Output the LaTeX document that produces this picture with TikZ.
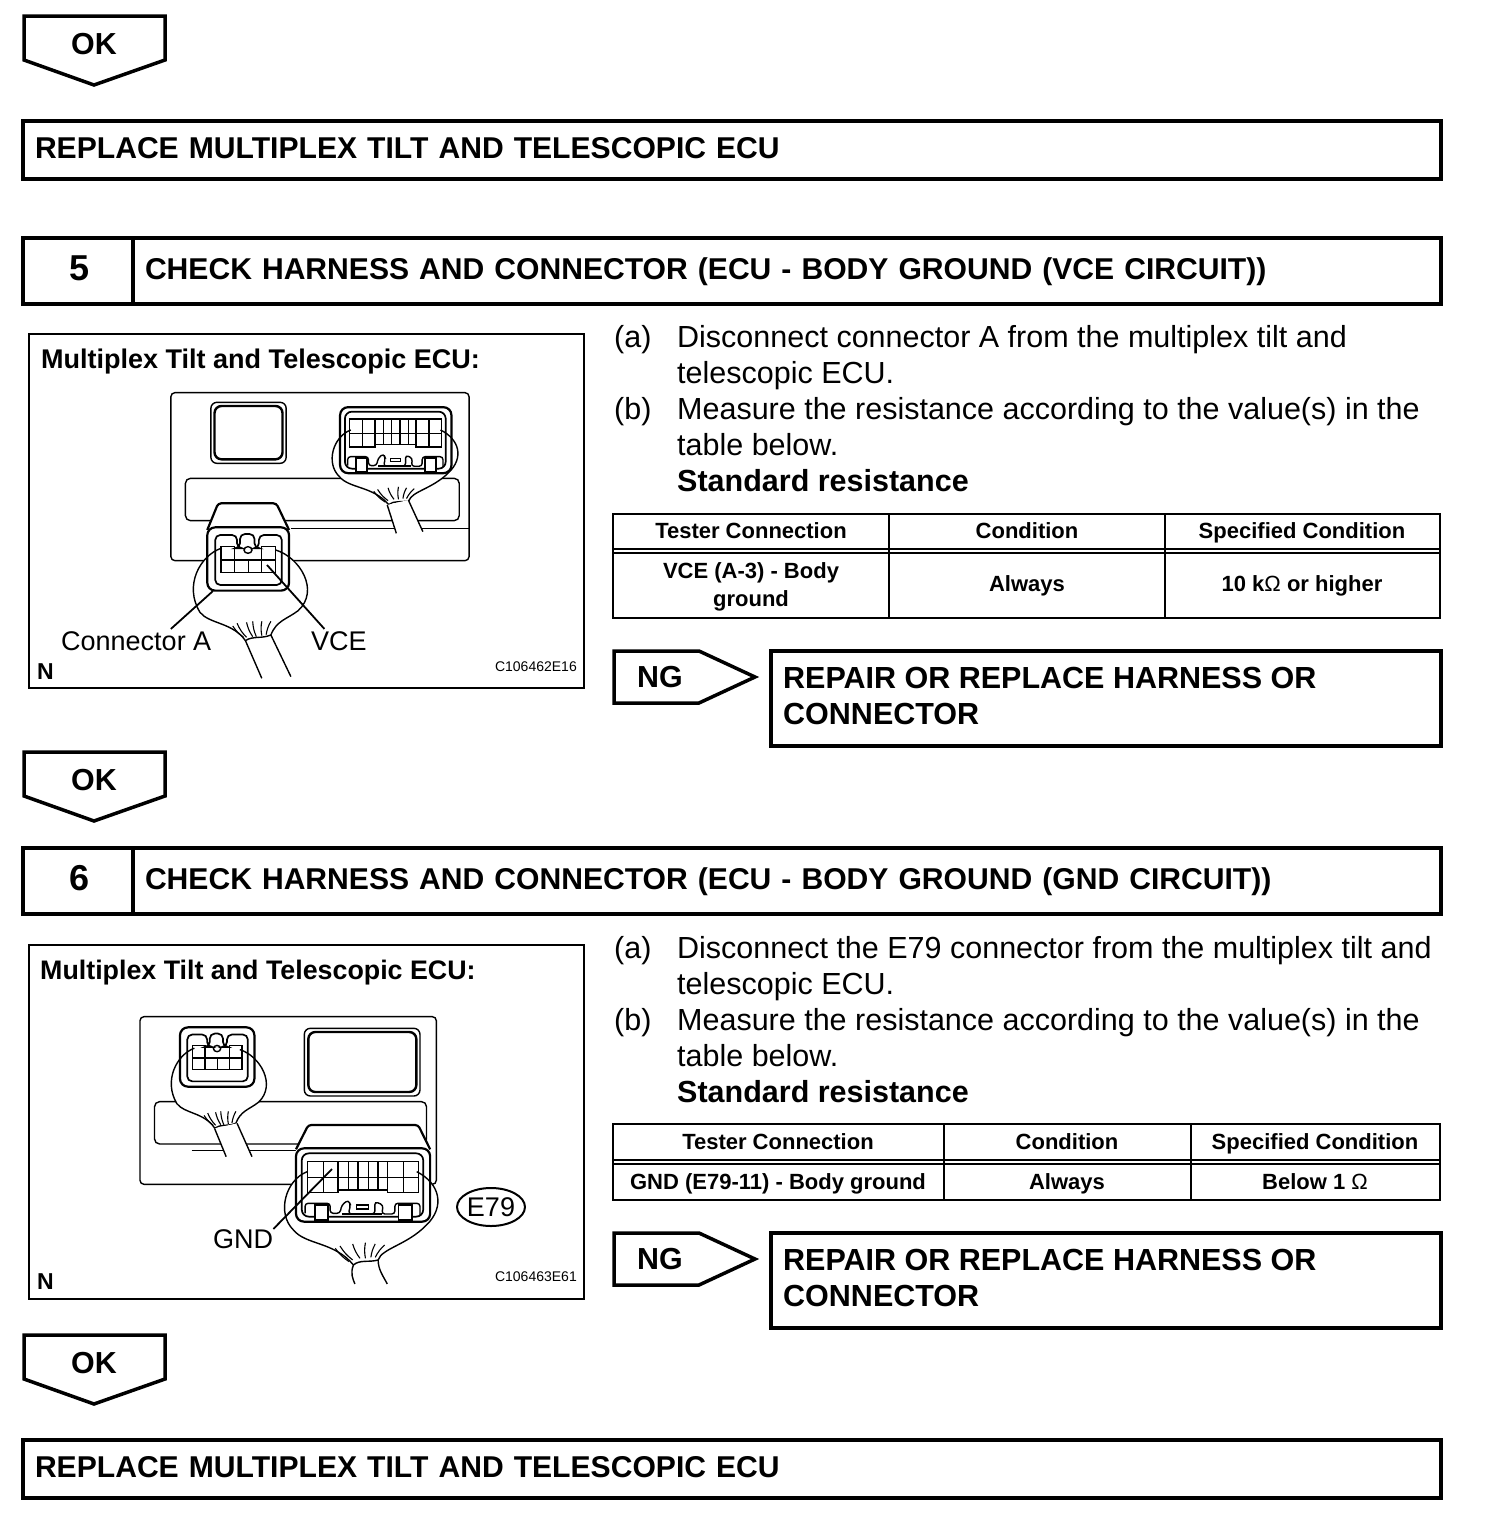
\documentclass[tikz,border=0pt]{standalone}
\usepackage{fontspec}
\setmainfont{Liberation Sans}
\usetikzlibrary{calc,shapes.geometric}
\newcommand{\fsize}[1]{\fontsize{#1}{36}\selectfont}

\tikzset{
  % small four pin plug, origin at top left of its rim
  pics/smallconn/.style={code={
    \draw[line width=2.2pt, rounded corners=8pt] (0,0) rectangle (225,190);
    \draw[line width=1.7pt, rounded corners=5pt] (22,173) -- (22,23) -- (82,23) -- (82,63) -- (90,63) -- (90,20) -- (130,20) -- (130,63) -- (142,63) -- (142,23) -- (205,23) -- (205,173) -- cycle;
    \draw[line width=1.4pt] (38,98) -- (38,58) -- (75,58) -- (75,135);
    \draw[line width=1.4pt] (188,98) -- (188,58) -- (150,58) -- (150,135);
    \draw[line width=1.4pt] (38,98) rectangle (188,135);
    \draw[line width=1.4pt] (113,98) -- (113,135);
    \draw[line width=1.4pt] (112,68) ellipse [x radius=11, y radius=10];
  }},
  % wide plug with the pin block and the latch
  pics/largeconn/.style={code={
    \draw[line width=2.2pt, rounded corners=8pt] (4,-15) rectangle (373,205);
    \draw[line width=1.7pt, rounded corners=7pt] (20,0) rectangle (354,190);
    \draw[line width=1.4pt] (35,25) rectangle (120,118);
    \draw[line width=1.4pt] (255,25) rectangle (341,118);
    \draw[line width=1.4pt] (120,25) rectangle (255,110);
    \draw[line width=1.4pt] (35,72) -- (341,72);
    \foreach \xp in {79,299} {
      \draw[line width=1.4pt] (\xp,25) -- (\xp,118);
    }
    \foreach \xp in {148,175,203,230} {
      \draw[line width=1.4pt] (\xp,25) -- (\xp,110);
    }
    \draw[line width=1.4pt, rounded corners=3pt] (29,180) -- (29,150) -- (98,150) -- (98,180) -- (125,180) -- (130,155) -- (148,140) -- (154,155) -- (148,182) -- (221,182) -- (221,145) -- (244,155) -- (240,182) -- (276,182) -- (276,150) -- (345,150) -- (345,185);
    \draw[line width=1.8pt, fill=white] (56,155) rectangle (93,200);
    \draw[line width=1.8pt, fill=white] (286,155) rectangle (322,200);
    \draw[line width=1.2pt] (171,155) rectangle (203,167);
    \draw[line width=1.8pt] (130,182) -- (240,182);
  }},
  % loop round the small plug, ending at the cable
  pics/smallloop/.style={code={
    \fill[white] (38,63) .. controls (-20,85) and (-65,175) .. (-20,255) .. controls (5,290) and (70,285) .. (105,340) -- (175,323) .. controls (190,280) and (220,275) .. (250,250) .. controls (310,190) and (255,90) .. (188,68) -- cycle;
    \draw[line width=1.4pt] (38,63) .. controls (-20,85) and (-65,175) .. (-20,255) .. controls (5,290) and (70,285) .. (105,340);
    \draw[line width=1.4pt] (188,68) .. controls (255,90) and (310,190) .. (250,250) .. controls (220,275) and (190,280) .. (175,323);
    \draw[line width=1.4pt] (105,340) .. controls (125,325) and (150,335) .. (175,323);
    \foreach \xa/\ya/\xb/\yb in {100/330/70/296, 108/330/82/288, 125/328/108/285, 135/328/125/282, 150/325/150/282, 162/322/175/282} {
      \draw[line width=1.1pt] (\xa,\ya) to[bend left=10] (\xb,\yb);
    }
  }},
  % loop round the wide plug
  pics/largeloop/.style={code={
    \fill[white] (35,55) .. controls (-25,80) and (-50,180) .. (-3,230) .. controls (30,275) and (110,265) .. (162,335) -- (230,320) .. controls (240,285) and (310,275) .. (363,215) .. controls (415,160) and (400,90) .. (336,55) -- cycle;
    \draw[line width=1.4pt] (35,55) .. controls (-25,80) and (-50,180) .. (-3,230) .. controls (30,275) and (110,265) .. (162,335);
    \draw[line width=1.4pt] (336,55) .. controls (400,90) and (415,160) .. (363,215) .. controls (310,275) and (240,285) .. (230,320);
    \draw[line width=1.4pt] (162,335) .. controls (180,318) and (205,328) .. (230,320);
    \foreach \xa/\ya/\xb/\yb in {150/325/112/285, 160/320/125/278, 180/315/160/272, 195/315/195/268, 210/312/222/272, 222/312/248/275} {
      \draw[line width=1.1pt] (\xa,\ya) to[bend left=10] (\xb,\yb);
    }
  }}
}

\begin{document}
\begin{tikzpicture}[
    x=1pt, y=-1pt,
    titlebox/.style={draw, line width=4pt, anchor=north west, align=left, inner xsep=12pt, inner ysep=0pt, text height=22pt, text depth=6pt, font=\fsize{30.1}\bfseries},
    numcell/.style={draw, line width=4pt, anchor=north west, minimum width=110pt, minimum height=66pt, inner ysep=0pt, text height=26pt, text depth=8pt, font=\fsize{36}\bfseries},
    repairbox/.style={draw, line width=4pt, anchor=north west, minimum width=670pt, minimum height=95pt},
    repairtext/.style={anchor=north west, inner sep=0pt, align=left, font=\fsize{30.5}\bfseries},
    tagtext/.style={font=\fsize{30.4}\bfseries},
    tagline/.style={line width=3.5pt, line join=miter},
    bodytext/.style={anchor=north west, inner sep=0pt, align=left, font=\fsize{30.5}},
    figframe/.style={draw, line width=2pt, anchor=north west, minimum width=555pt, minimum height=354pt},
    figtitle/.style={anchor=base west, inner sep=0pt, font=\fsize{27}\bfseries},
    calltext/.style={anchor=base west, inner sep=0pt, font=\fsize{27}},
    figcode/.style={anchor=base east, inner sep=0pt, font=\fsize{14}},
    figmark/.style={anchor=base west, inner sep=0pt, font=\fsize{23}\bfseries},
    leader/.style={line width=1.8pt},
    panelline/.style={line width=1.4pt},
    tabline/.style={line width=2pt},
    tabtext/.style={anchor=base, inner sep=0pt, align=center, font=\fontsize{22}{28}\selectfont\bfseries}
  ]
  \useasboundingbox[fill=white] (0,0) rectangle (1504,1532);

  % OK tags
  \foreach \y/\tagname in {16/oka, 752/okb, 1335/okc} {
    \draw[tagline] (24,\y) -- (165,\y) -- (165,\y+44) -- (94,\y+69) -- (24,\y+44) -- cycle;
    \node[tagtext] (\tagname) at (94,\y+28) {OK};
  }

  % Replace boxes
  \node[titlebox, text width=1394pt, minimum height=58pt] (replacea) at (21,119) {REPLACE MULTIPLEX TILT AND TELESCOPIC ECU};
  \node[titlebox, text width=1394pt, minimum height=58pt] (replaceb) at (21,1438) {REPLACE MULTIPLEX TILT AND TELESCOPIC ECU};

  % Step 5
  \node[numcell] (stepa) at (21,236) {\hspace{4pt}5};
  \node[titlebox, text width=1284pt, minimum height=66pt] (heada) at (131,236) {CHECK HARNESS AND CONNECTOR (ECU - BODY GROUND (VCE CIRCUIT))};

  \node[figframe] (framea) at (28,333) {};
  \node[figtitle] (figtitlea) at (41,368) {Multiplex Tilt and Telescopic ECU:};
  \begin{scope}[shift={(20,330)}, x=0.3636pt, y=-0.3333pt]
    \draw[panelline, rounded corners=4pt] (415,188) rectangle (1235,692);
    \draw[panelline, rounded corners=5pt] (455,445) rectangle (1208,572);
    \draw[panelline] (745,595) -- (1235,595);
    \draw[panelline, rounded corners=6pt] (525,217) rectangle (732,400);
    \draw[line width=2.4pt, rounded corners=7pt] (535,228) rectangle (722,388);
    % plug backing hides the panel
    \fill[white] (515,600) -- (545,520) -- (705,520) -- (740,600) -- (740,782) -- (515,782) -- cycle;
    \pic[xscale=0.82, yscale=0.8] at (881,256) {largeloop};
    \fill[white] (1010,525) -- (1035,610) -- (1108,605) -- (1068,510) -- cycle;
    \draw[panelline] (1010,525) -- (1035,610) (1068,510) -- (1108,605);
    \pic at (515,592) {smallloop};
    \draw[panelline] (620,932) -- (665,1045) (690,915) -- (745,1040);
    \draw[line width=2.2pt, rounded corners=3pt] (515,600) -- (545,520) -- (705,520) -- (740,600);
    \pic at (515,592) {smallconn};
    \pic[xscale=0.83, yscale=0.9] at (877,245) {largeconn};
  \end{scope}
  \node[calltext] (conlabel) at (61,650) {Connector A};
  \node[calltext] (vcelabel) at (311,650) {VCE};
  \node[figmark] (marka) at (37,679) {N};
  \node[figcode] (codea) at (577,671) {C106462E16};
  \coordinate (conpin) at (213,591);
  \coordinate (vcepin) at (267,565);
  \draw[leader] (conpin) -- ($(conlabel.north west)!0.73!(conlabel.north east)+(0,-2)$);
  \draw[leader] (vcepin) -- ($(vcelabel.north west)!0.24!(vcelabel.north east)+(0,-2)$);

  \node[bodytext] at (614,325) {(a)};
  \node[bodytext] at (677,325) {Disconnect connector A from the multiplex tilt and\\telescopic ECU.};
  \node[bodytext] at (614,397) {(b)};
  \node[bodytext] at (677,397) {Measure the resistance according to the value(s) in the\\table below.\\\textbf{Standard resistance}};

  % Table of step 5
  \draw[tabline] (613,514) rectangle (1440,618);
  \draw[tabline] (889,514) -- (889,618) (1165,514) -- (1165,618);
  \draw[tabline] (613,549) -- (1440,549) (613,553) -- (1440,553);
  \node[tabtext] (thaa) at (751,538) {Tester Connection};
  \node[tabtext] (thab) at (1027,538) {Condition};
  \node[tabtext] (thac) at (1302,538) {Specified Condition};
  \node[tabtext, anchor=center] (tdaa) at (751,587) {VCE (A-3) - Body\\ground};
  \node[tabtext] (tdab) at (1027,591) {Always};
  \node[tabtext] (tdac) at (1302,591) {10 k{\normalfont Ω} or higher};

  % NG tags and repair boxes
  \foreach \y/\tagname/\boxname in {651/nga/repaira, 1233/ngb/repairb} {
    \draw[tagline] (614,\y) -- (699,\y) -- (755,\y+26) -- (699,\y+52) -- (614,\y+52) -- cycle;
    \node[tagtext] (\tagname) at (660,\y+26) {NG};
    \node[repairbox] (\boxname) at (769,\y-2) {};
    \node[repairtext] at (783,\y+16) {REPAIR OR REPLACE HARNESS OR\\CONNECTOR};
  }

  % Step 6
  \node[numcell] (stepb) at (21,846) {\hspace{4pt}6};
  \node[titlebox, text width=1284pt, minimum height=66pt] (headb) at (131,846) {CHECK HARNESS AND CONNECTOR (ECU - BODY GROUND (GND CIRCUIT))};

  \node[figframe] (frameb) at (28,944) {};
  \node[figtitle, font=\fsize{26.8}\bfseries] (figtitleb) at (40,979) {Multiplex Tilt and Telescopic ECU:};
  \begin{scope}[shift={(20,940)}, x=0.3636pt, y=-0.3333pt]
    \draw[panelline, rounded corners=4pt] (330,230) rectangle (1145,733);
    \draw[panelline, rounded corners=5pt] (370,485) rectangle (1118,612);
    \draw[panelline] (472,632) -- (1118,632);
    \draw[panelline, rounded corners=6pt] (782,265) rectangle (1100,468);
    \draw[line width=2.4pt, rounded corners=7pt] (793,276) rectangle (1090,456);
    \fill[white] (759,628) -- (793,555) -- (1095,555) -- (1128,628) -- (1128,845) -- (759,845) -- cycle;
    \pic[xscale=0.833, yscale=0.866] at (448,270) {smallloop};
    \fill[white] (535,565) -- (567,650) -- (638,650) -- (597,550) -- cycle;
    \draw[panelline] (535,565) -- (567,650) (597,550) -- (638,650);
    \pic[xscale=0.91, yscale=0.937] at (440,262) {smallconn};
    \pic at (755,640) {largeloop};
    \draw[panelline] (917,975) .. controls (908,1000) and (915,1015) .. (921,1032);
    \draw[panelline] (985,960) .. controls (985,990) and (1000,1010) .. (1010,1032);
    \draw[line width=2.2pt, rounded corners=3pt] (759,628) -- (793,555) -- (1095,555) -- (1128,628);
    \pic at (755,640) {largeconn};
  \end{scope}
  \node[calltext] (gndlabel) at (213,1248) {GND};
  \node[draw, line width=2pt, ellipse, inner sep=0pt, minimum width=65pt, minimum height=38pt, font=\fsize{27}] (e79) at (491,1207) {E79};
  \node[figmark] (markb) at (37,1289) {N};
  \node[figcode] (codeb) at (577,1281) {C106463E61};
  \coordinate (gndpin) at (332,1169);
  \draw[leader] (gndpin) -- (gndlabel.north east);

  \node[bodytext] at (614,936) {(a)};
  \node[bodytext] at (677,936) {Disconnect the E79 connector from the multiplex tilt and\\telescopic ECU.};
  \node[bodytext] at (614,1008) {(b)};
  \node[bodytext] at (677,1008) {Measure the resistance according to the value(s) in the\\table below.\\\textbf{Standard resistance}};

  % Table of step 6
  \draw[tabline] (613,1124) rectangle (1440,1200);
  \draw[tabline] (944,1124) -- (944,1200) (1191,1124) -- (1191,1200);
  \draw[tabline] (613,1160) -- (1440,1160) (613,1164) -- (1440,1164);
  \node[tabtext] (thba) at (778,1149) {Tester Connection};
  \node[tabtext] (thbb) at (1067,1149) {Condition};
  \node[tabtext] (thbc) at (1315,1149) {Specified Condition};
  \node[tabtext] (tdba) at (778,1189) {GND (E79-11) - Body ground};
  \node[tabtext] (tdbb) at (1067,1189) {Always};
  \node[tabtext] (tdbc) at (1315,1189) {Below 1 {\normalfont Ω}};
\end{tikzpicture}
\end{document}
